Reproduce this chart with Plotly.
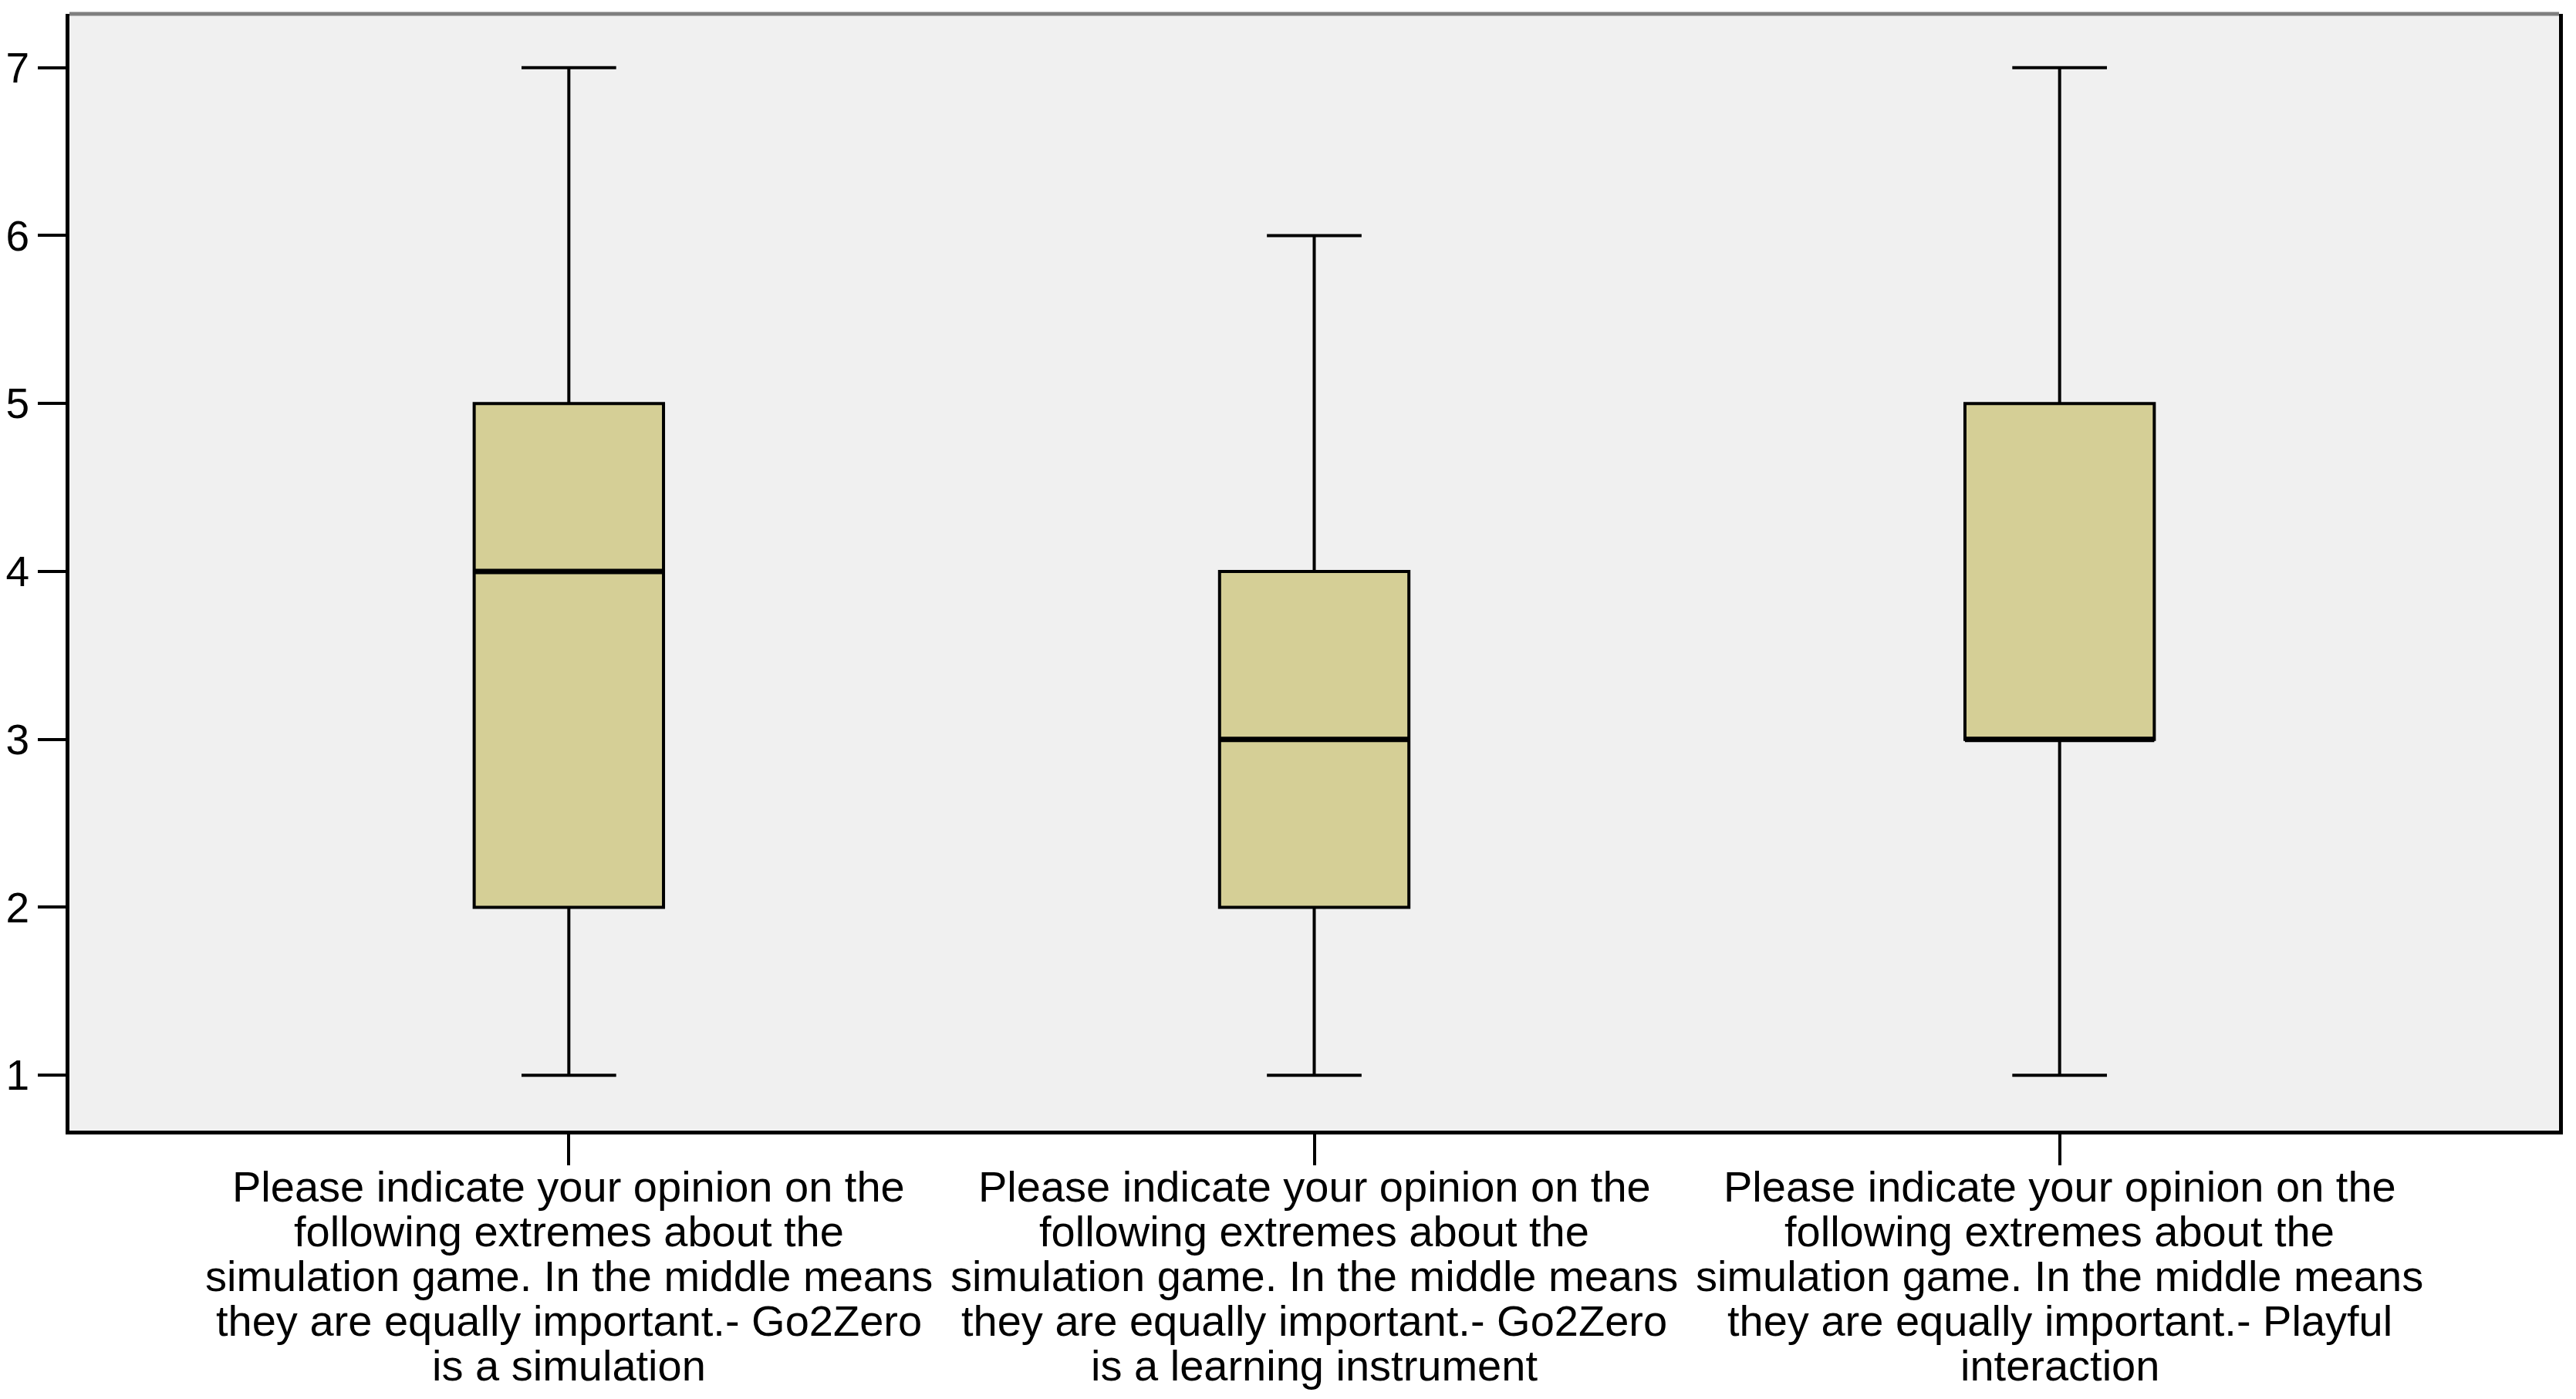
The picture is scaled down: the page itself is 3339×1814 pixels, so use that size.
"""
Box plot of three opinion items (SPSS-style look).
"""
import plotly.graph_objects as go

# ── Data ──────────────────────────────────────────────────────────────────────
categories = [
    "Please indicate your opinion on the<br>following extremes about the<br>"
    "simulation game. In the middle means<br>they are equally important.- Go2Zero<br>"
    "is a simulation",
    "Please indicate your opinion on the<br>following extremes about the<br>"
    "simulation game. In the middle means<br>they are equally important.- Go2Zero<br>"
    "is a learning instrument",
    "Please indicate your opinion on the<br>following extremes about the<br>"
    "simulation game. In the middle means<br>they are equally important.- Playful<br>"
    "interaction",
]
positions = [0, 1, 2]
lower_fence = [1, 1, 1]
q1 = [2, 2, 3]
median = [4, 3, 3]
q3 = [5, 4, 5]
upper_fence = [7, 6, 7]
y_ticks = [1, 2, 3, 4, 5, 6, 7]

FONT = "Liberation Sans, Arial, sans-serif"
BOX_W = 0.254

fig = go.Figure()

fig.add_trace(
    go.Box(
        x=positions,
        q1=q1,
        median=median,
        q3=q3,
        lowerfence=lower_fence,
        upperfence=upper_fence,
        width=BOX_W,
        whiskerwidth=0.5,
        fillcolor="#D5CF96",
        line=dict(color="black", width=4),
        boxpoints=False,
        hoverinfo="skip",
        showlegend=False,
    )
)

# Thicker median bars, drawn over the box
mx, my = [], []
for p, m in zip(positions, median):
    mx += [p - BOX_W / 2, p + BOX_W / 2, None]
    my += [m, m, None]
fig.add_trace(
    go.Scatter(
        x=mx, y=my, mode="lines",
        line=dict(color="black", width=7),
        hoverinfo="skip", showlegend=False,
    )
)

# Category labels, one annotation per line so the tight line spacing holds
for p, label in zip(positions, categories):
    for j, line in enumerate(label.split("<br>")):
        fig.add_annotation(
            x=p, xref="x", y=0, yref="paper",
            text=line, showarrow=False,
            xanchor="center", yanchor="middle",
            yshift=-(72 + j * 58),
            font=dict(family=FONT, size=56, color="black"),
        )

# Grey top border of the frame
fig.add_shape(
    type="line", xref="paper", yref="paper",
    x0=0, x1=1, y0=1, y1=1,
    line=dict(color="#7F7F7F", width=5),
)

fig.update_layout(
    width=3339,
    height=1814,
    paper_bgcolor="white",
    plot_bgcolor="#F0F0F0",
    margin=dict(l=82, r=30, t=10, b=356),
    font=dict(family=FONT, size=55, color="black"),
    xaxis=dict(
        range=[-0.67, 2.67],
        tickvals=positions,
        showticklabels=False,
        ticks="outside", ticklen=40, tickwidth=4, tickcolor="black",
        showline=True, linecolor="black", linewidth=5,
        showgrid=False, zeroline=False, automargin=False,
    ),
    yaxis=dict(
        range=[0.67, 7.32],
        tickvals=y_ticks,
        ticks="outside", ticklen=36, tickwidth=4, tickcolor="black",
        tickfont=dict(family=FONT, size=55, color="black"),
        showline=True, linecolor="black", linewidth=5, mirror=True,
        showgrid=False, zeroline=False, automargin=False,
    ),
)

fig.write_html("out.html")
